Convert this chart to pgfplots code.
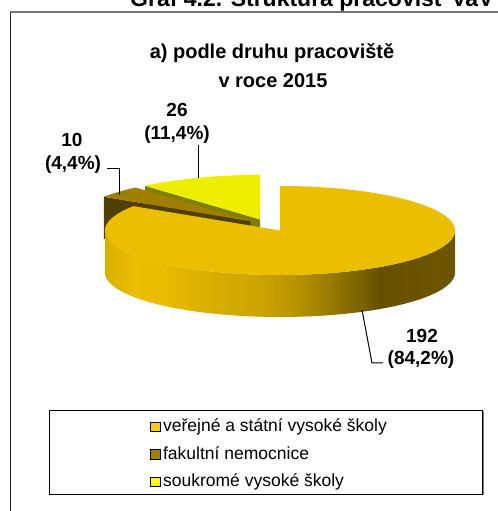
\documentclass[border=0pt]{standalone}
\usepackage{pgfplots}
\pgfplotsset{compat=1.18}
\usepackage{fontspec}
\setmainfont{Liberation Sans}
\definecolor{bigTop}{HTML}{EBBE00}
\definecolor{brownTop}{HTML}{A07F00}
\definecolor{brownFace}{HTML}{4F3F00}
\definecolor{yelTop}{HTML}{EEEE00}
\definecolor{yelFace}{HTML}{808000}
\definecolor{legA}{HTML}{FFCC00}
\definecolor{legB}{HTML}{A08000}
\definecolor{legC}{HTML}{FFFF00}
\definecolor{s0}{HTML}{D9AF00}
\definecolor{s1}{HTML}{EBBE00}
\definecolor{s2}{HTML}{E9BC00}
\definecolor{s3}{HTML}{D8AE00}
\definecolor{s4}{HTML}{CCA400}
\definecolor{s5}{HTML}{B89400}
\definecolor{s6}{HTML}{9A7C00}
\definecolor{s7}{HTML}{7A6200}
\definecolor{s8}{HTML}{675000}
\definecolor{s9}{HTML}{6B5300}
\definecolor{s10}{HTML}{6E5500}
\pgfdeclarehorizontalshading{bigside}{100bp}{color(0bp)=(s0); color(25bp)=(s0); color(29.3bp)=(s1); color(33.1bp)=(s2); color(40.3bp)=(s3); color(47.4bp)=(s4); color(52.1bp)=(s5); color(56.9bp)=(s6); color(61.7bp)=(s7); color(64bp)=(s8); color(71.1bp)=(s9); color(75bp)=(s10); color(100bp)=(s10)}
\begin{document}
\begin{tikzpicture}
\path[use as bounding box] (0,0) rectangle (498bp,511bp);
\clip (0,0) rectangle (498bp,511bp);
% data
\def\va{192}\def\vb{10}\def\vc{26}
\pgfmathsetmacro\tot{\va+\vb+\vc}
\pgfmathsetmacro\aA{90}
\pgfmathsetmacro\aB{90-360*(\va/\tot)}
\pgfmathsetmacro\aC{\aB-360*(\vb/\tot)}
\pgfmathsetmacro\aD{-270}
% geometry (pixels)
\def\rx{175}\def\ry{44.5}\def\dep{42}\def\ex{24}
\pgfmathsetmacro\sq{\ry/\rx}
\pgfmathsetmacro\mA{(\aA+\aB)/2}
\pgfmathsetmacro\mB{(\aB+\aC)/2}
\pgfmathsetmacro\mC{(\aC+\aD)/2}
\pgfmathsetmacro\Cx{280-\ex*cos(\mA)}
\pgfmathsetmacro\Cy{280.5-\ex*\sq*sin(\mA)}
\pgfmathsetmacro\AVx{\Cx+\ex*cos(\mA)}
\pgfmathsetmacro\AVy{\Cy+\ex*\sq*sin(\mA)}
\pgfmathsetmacro\BVx{\Cx+\ex*cos(\mB)}
\pgfmathsetmacro\BVy{\Cy+\ex*\sq*sin(\mB)}
\pgfmathsetmacro\CVx{\Cx+\ex*cos(\mC)}
\pgfmathsetmacro\CVy{\Cy+\ex*\sq*sin(\mC)}
\pgfmathsetmacro\BPx{\BVx+\rx*cos(\aB)}
\pgfmathsetmacro\BPy{\BVy+\ry*sin(\aB)}
\pgfmathsetmacro\BPyd{\BPy-\dep}
\pgfmathsetmacro\BVyd{\BVy-\dep}
\pgfmathsetmacro\CPx{\CVx+\rx*cos(\aC)}
\pgfmathsetmacro\CPy{\CVy+\ry*sin(\aC)}
\pgfmathsetmacro\CPyd{\CPy-\dep}
\pgfmathsetmacro\CVyd{\CVy-\dep}
\begin{axis}[at={(0,0)}, anchor=south west, width=498bp, height=511bp,
  scale only axis, xmin=0, xmax=498, ymin=0, ymax=511, hide axis, clip=false,
  legend image code/.code={\fill[#1] (0bp,-4.75bp) rectangle (9.5bp,4.75bp);},
  legend style={at={(axis cs:150,98)}, anchor=north west, draw=none, fill=none,
    font=\fontsize{17.5bp}{21bp}\selectfont, inner sep=0pt, row sep=0pt, column sep=3bp,
    nodes={inner sep=0pt, text height=13.5bp, text depth=4bp, minimum height=27.5bp}},
  legend cell align=left]
% yellow slice (26)
\addplot[forget plot, fill=yelFace, draw=none] coordinates {(\CVx,\CVy) (\CPx,\CPy) (\CPx,\CPyd) (\CVx,\CVyd)} -- cycle;
\addplot[forget plot, fill=yelTop, draw=none, domain=\aD:\aC, samples=80] ({\CVx+\rx*cos(x)},{\CVy+\ry*sin(x)}) -- (axis cs:\CVx,\CVy) -- cycle;
% brown slice (10)
\addplot[forget plot, fill=brownFace, draw=none] coordinates {(\BVx,\BVy) (\BPx,\BPy) (\BPx,\BPyd) (\BVx,\BVyd)} -- cycle;
\addplot[forget plot, fill=brownTop, draw=none, domain=\aC:\aB, samples=40] ({\BVx+\rx*cos(x)},{\BVy+\ry*sin(x)}) -- (axis cs:\BVx,\BVy) -- cycle;
% big slice (192)
\addplot[forget plot, shading=bigside, draw=none, domain=0:3, samples=301]
  ({\AVx+\rx*cos(-180+180*min(x,1)-180*max(x-2,0))},
   {\AVy+\ry*sin(-180+180*min(x,1)-180*max(x-2,0))-\dep*min(max(x-1,0),1)}) -- cycle;
\addplot[forget plot, fill=bigTop, draw=none, domain=\aB:\aA, samples=200] ({\AVx+\rx*cos(x)},{\AVy+\ry*sin(x)}) -- (axis cs:\AVx,\AVy) -- cycle;
% leader lines
\addplot[forget plot, black, line width=1bp] coordinates {(198,366) (198,333)};
\addplot[forget plot, black, line width=1bp] coordinates {(107,342) (119,342) (119,316)};
\addplot[forget plot, black, line width=1bp] coordinates {(362,201) (372,148) (383,148)};
% frames
\draw[black!85, line width=1.1bp] (axis cs:10.5,-10) -- (axis cs:10.5,499);
\draw[black!55, line width=1.3bp] (axis cs:10,499) -- (axis cs:510,499);
\fill[black!50] (axis cs:50.5,15.5) rectangle (axis cs:483.5,99.5);
\filldraw[fill=white, draw=black, line width=0.9bp] (axis cs:49,17) rectangle (axis cs:482,101);
% legend
\addlegendimage{fill=legA}\addlegendentry{veřejné a státní vysoké školy}
\addlegendimage{fill=legB}\addlegendentry{fakultní nemocnice}
\addlegendimage{fill=legC}\addlegendentry{soukromé vysoké školy}
% texts
\node[anchor=base west, inner sep=0pt, font=\bfseries\fontsize{23bp}{26bp}\selectfont] at (axis cs:130,504.5) {Graf 4.2. Struktura pracovišť VaV};
\node[anchor=base, font=\bfseries\fontsize{20bp}{24bp}\selectfont] at (axis cs:272,452) {a) podle druhu pracoviště};
\node[anchor=base, font=\bfseries\fontsize{20bp}{24bp}\selectfont] at (axis cs:273,423) {v roce 2015};
\node[anchor=base, font=\bfseries\fontsize{19bp}{22bp}\selectfont] at (axis cs:177,394) {26};
\node[anchor=base, font=\bfseries\fontsize{19bp}{22bp}\selectfont] at (axis cs:177,371) {(11,4\%)};
\node[anchor=base, font=\bfseries\fontsize{19bp}{22bp}\selectfont] at (axis cs:72,364) {10};
\node[anchor=base, font=\bfseries\fontsize{19bp}{22bp}\selectfont] at (axis cs:73,341) {(4,4\%)};
\node[anchor=base, font=\bfseries\fontsize{19bp}{22bp}\selectfont] at (axis cs:422,168) {192};
\node[anchor=base, font=\bfseries\fontsize{19bp}{22bp}\selectfont] at (axis cs:421,146) {(84,2\%)};
\end{axis}
\end{tikzpicture}
\end{document}
